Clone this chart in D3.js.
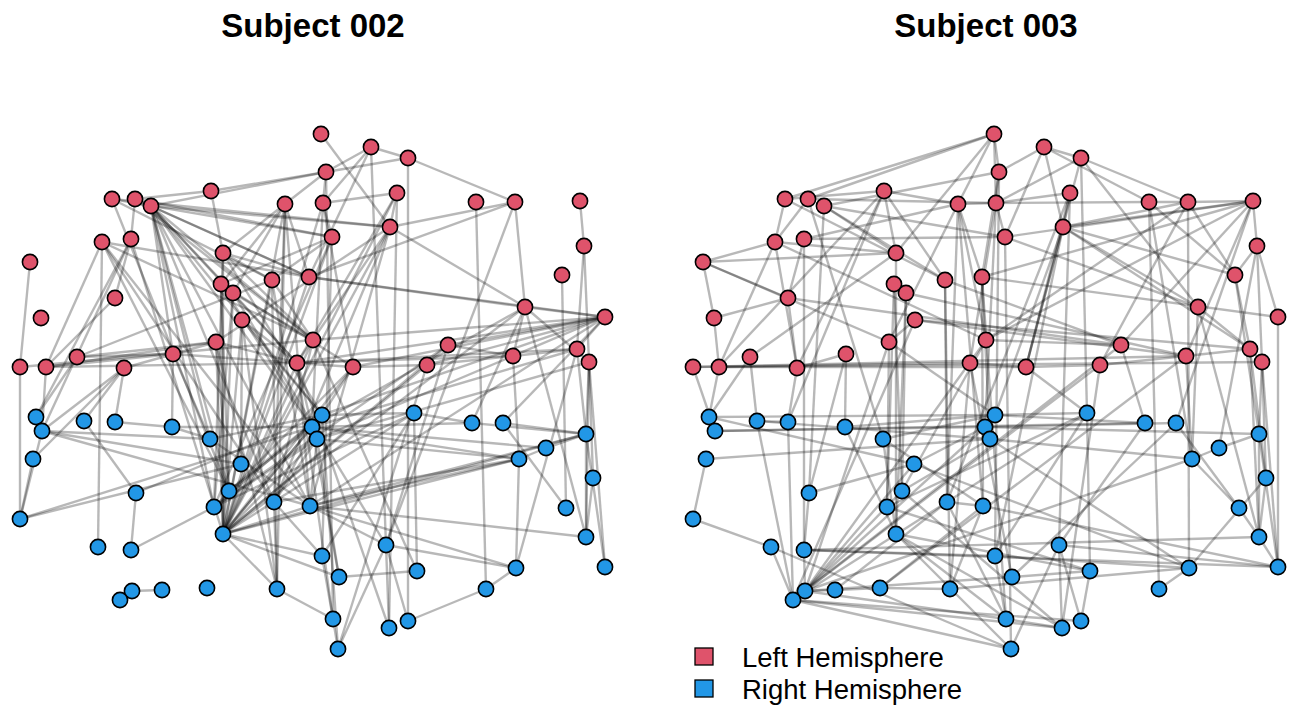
<!DOCTYPE html>
<html>
<head>
<meta charset="utf-8">
<script src="https://cdn.jsdelivr.net/npm/d3@7"></script>
<style>
  html, body { margin: 0; padding: 0; background: #fff; }
  svg { display: block; }
</style>
</head>
<body>
<svg id="chart" width="1291" height="706"></svg>
<script>
// Panel titles (one per subject)
const subjects = ["Subject 002", "Subject 003"];

// Hemisphere groups and legend labels
const hemispheres = ["Left Hemisphere", "Right Hemisphere"];

// Shared electrode layout (2-D projected coordinates); L* = left, R* = right hemisphere
const leftLayout = [
  [321,134],[371,147],[408,158],[326,172],[211,191],[112,199],[135,199],[151,206],[285,204],[323,203],
  [397,193],[476,202],[515,202],[580,201],[102,242],[131,239],[223,253],[390,227],[332,237],[584,246],
  [30,262],[221,284],[233,293],[272,280],[309,277],[562,275],[115,298],[41,318],[242,320],[525,307],
  [605,317],[216,342],[313,340],[448,345],[173,354],[77,357],[297,363],[20,367],[46,367],[124,368],
  [353,367],[427,365],[513,356],[577,349],[589,362]
];
const rightLayout = [
  [36,417],[42,431],[84,421],[115,422],[172,427],[210,439],[33,459],[241,464],[136,493],[229,491],
  [214,507],[274,502],[310,506],[20,519],[223,534],[98,547],[131,550],[277,589],[132,591],[120,600],
  [162,590],[207,588],[322,415],[312,427],[317,439],[414,413],[472,423],[503,423],[586,434],[546,448],
  [519,459],[593,478],[566,508],[386,545],[586,537],[322,556],[605,567],[339,577],[417,571],[516,568],
  [486,589],[333,619],[408,621],[389,628],[338,649]
];

// Connections for Subject 002
const edges002 = [
  ["L1","L18"],["L2","L3"],["L2","L4"],["L2","L10"],["L2","R34"],["L2","L25"],
  ["L3","L4"],["L3","L13"],["L3","R43"],["L4","L5"],["L4","L9"],["L4","L10"],["L4","L8"],
  ["L5","L7"],["L5","L17"],["L6","L18"],["L6","L24"],["L6","L19"],["L6","R10"],
  ["L7","L16"],["L7","L19"],["L7","L25"],["L7","L33"],
  ["L8","L18"],["L8","L25"],["L8","L35"],["L8","L33"],["L8","R6"],["L8","R10"],["L8","R12"],["L8","L37"],["L8","R24"],
  ["L8","R11"],["L8","R13"],["L8","R23"],["L8","L23"],
  ["L9","L17"],["L9","R18"],["L9","L25"],["L9","R13"],["L9","L22"],["L9","R12"],["L9","R15"],["L9","L23"],
  ["L10","L11"],["L10","L19"],["L10","R24"],["L10","L41"],["L10","R15"],["L4","R42"],
  ["L11","L18"],["L11","L37"],["L11","R44"],["L11","R15"],
  ["L12","R41"],["L13","L18"],["L13","L25"],["L13","R34"],["L13","L30"],
  ["L14","L20"],["L20","L45"],["L45","R37"],["L45","R32"],["L20","L44"],["L26","R33"],
  ["L18","L30"],["L18","L37"],["L18","R12"],["L18","R15"],["L18","L32"],["L18","R13"],
  ["L19","L24"],["L19","R36"],["L19","L22"],["L19","R11"],["L19","R15"],
  ["L17","L25"],["L17","L33"],["L17","R15"],["L17","R11"],["L17","L24"],["L17","R23"],
  ["L15","L25"],["L15","R16"],["L15","L39"],["L15","R12"],["L15","R13"],["L15","L33"],["L15","R10"],
  ["L16","L27"],["L16","R2"],["L16","R15"],["L27","L39"],["L21","L38"],
  ["L36","L35"],["L36","L32"],["L36","R1"],["L36","L24"],
  ["L39","L35"],["L39","L32"],["L39","R2"],["L39","L37"],["L38","R14"],["L38","L33"],
  ["L40","R4"],["L40","L32"],["L40","R2"],["L35","R6"],["L35","R5"],["L35","L37"],
  ["L22","R15"],["L22","R10"],["L22","L41"],["L22","R24"],
  ["L23","R11"],["L23","R15"],["L23","L33"],["L23","R34"],["L23","L37"],
  ["L24","R18"],["L24","R13"],["L24","L33"],["L24","R15"],["L25","L30"],["L25","L31"],["L25","R15"],
  ["L29","R18"],["L29","R8"],["L29","L37"],["L29","R23"],["L29","R15"],
  ["L32","R15"],["L32","R18"],["L32","L37"],["L32","R10"],
  ["L33","L31"],["L33","R12"],["L33","R15"],["L33","R39"],
  ["L37","L31"],["L37","L44"],["L37","L43"],["L37","R15"],["L37","R42"],["L37","R44"],["L37","L41"],["L37","R24"],
  ["L41","R23"],["L41","L31"],["L41","R11"],["L41","L42"],["L41","R15"],
  ["L42","L43"],["L42","L31"],["L42","R15"],["L42","R45"],
  ["L34","L43"],["L34","L31"],["L34","R11"],["L34","R34"],["L34","R15"],
  ["L43","L30"],["L43","L44"],["L43","R31"],
  ["L30","L31"],["L30","L45"],["L30","R27"],["L30","R24"],["L30","R35"],["L30","R15"],
  ["L31","L44"],["L31","R28"],["L31","R23"],["L31","R13"],["L31","R25"],
  ["L44","R24"],["L44","R29"],["L44","R40"],["L45","R29"],["L45","R35"],["L45","R25"],
  ["R1","L16"],["R2","R14"],["R14","R7"],["R14","R8"],["R14","R24"],
  ["R2","R6"],["R2","R8"],["R2","R13"],["R7","L40"],
  ["R3","R9"],["R3","L40"],["R4","R5"],["R5","R6"],["R6","R23"],["R6","R13"],["R5","R24"],
  ["R9","R17"],["R17","R11"],["R9","R23"],["R18","R15"],["R18","R42"],["R18","R12"],
  ["R15","R23"],["R15","R24"],["R15","R26"],["R15","R25"],["R15","R13"],["R15","R36"],["R15","R31"],["R15","R29"],
  ["R19","R21"],["R10","R23"],["R10","R24"],["R11","R25"],["R11","R26"],["R11","R23"],
  ["R12","R25"],["R12","R23"],["R12","R36"],
  ["R13","R25"],["R13","R40"],["R13","R35"],["R13","R34"],["R13","R29"],
  ["R23","R24"],["R23","R26"],["R24","R31"],["R24","R27"],["R24","R30"],["R25","R31"],["R23","R45"],["R25","R38"],
  ["R26","R27"],["R26","R39"],["R26","R36"],["R27","R29"],["R28","R29"],["R28","R33"],
  ["R31","R30"],["R30","R29"],["R31","R40"],["R31","R12"],["R31","R13"],
  ["R29","R35"],["R32","R35"],["R29","R37"],["R40","R41"],["R40","R34"],["R39","R38"],
  ["R42","R45"],["R36","R42"],["R43","R41"],["R44","R34"],["R43","R34"],["R45","R34"],
  ["R38","R15"],["R38","R24"]
];

// Connections for Subject 003
const edges003 = [
  ["L1","L6"],["L1","L7"],["L1","L9"],["L1","L17"],["L1","L4"],["L1","L10"],
  ["L8","L4"],["L8","L19"],["L8","R9"],["L8","L17"],["L8","L24"],
  ["L2","L3"],["L2","L4"],["L2","L12"],["L2","L19"],["L2","L18"],
  ["L3","L13"],["L3","R26"],["L3","L30"],["L3","L41"],["L3","L10"],
  ["L4","L10"],["L4","L25"],["L4","R36"],
  ["L5","L17"],["L5","L40"],["L5","R4"],["L5","L24"],["L5","L6"],["L5","L9"],
  ["L6","L15"],["L6","L24"],["L7","L15"],["L7","L10"],["L7","R6"],
  ["L9","L25"],["L9","R12"],["L9","L16"],["L9","L32"],["L9","L10"],["L9","L33"],["L9","R13"],
  ["L10","L11"],["L10","L12"],["L10","L19"],["L10","L37"],["L10","R24"],
  ["L11","L41"],["L11","L18"],["L11","R34"],["L11","R12"],
  ["L12","L13"],["L12","R41"],["L12","L26"],["L12","R31"],
  ["L13","L14"],["L13","R40"],["L13","L26"],["L13","L18"],["L13","L42"],["L13","L33"],
  ["L14","L20"],["L14","L18"],["L14","L25"],["L14","L33"],["L14","L34"],["L14","L19"],["L14","L43"],["L14","R28"],
  ["L20","L45"],["L20","L26"],["L20","L31"],["L20","R30"],["L31","R37"],
  ["L26","L44"],["L26","L18"],["L26","R29"],["L30","L44"],["L30","L18"],["L30","R31"],["L30","R35"],
  ["L41","L42"],["L42","L43"],["L43","L44"],["L44","L45"],["L39","L41"],
  ["L18","L44"],["L18","L41"],["L18","R36"],["L18","R23"],
  ["L15","L21"],["L15","L40"],["L15","L39"],["L15","L33"],["L15","L17"],
  ["L21","L28"],["L21","L27"],["L21","L17"],["L21","L32"],["L16","L27"],["L16","L19"],["L16","R17"],
  ["L27","L28"],["L27","L40"],["L27","L34"],["L28","L39"],
  ["L39","L5"],["L39","L45"],["L39","R1"],["L38","L43"],["L38","R2"],["L38","L37"],
  ["L36","R1"],["L36","L17"],["L36","R3"],["L40","R4"],["L40","L35"],["L35","R5"],["L35","R9"],
  ["L32","R11"],["L32","L29"],["L32","R19"],["L32","R23"],["L22","R11"],["L22","L23"],["L22","R10"],
  ["L23","R15"],["L23","R10"],["L23","L43"],["L29","L44"],["L29","R20"],["L29","L43"],
  ["L17","R15"],["L19","R45"],["L19","L30"],["L25","R25"],["L33","R10"],["L41","R26"],
  ["L24","R12"],["L24","L34"],["L24","R18"],["L25","R13"],["L25","L31"],["L25","R42"],
  ["L33","R19"],["L33","L34"],["L37","R18"],["L37","L41"],["L37","R38"],
  ["L34","R20"],["L34","R27"],["L42","R44"],["L42","R19"],["L43","R22"],["L43","R31"],
  ["L44","R32"],["L44","R35"],["L45","R37"],["L45","R29"],["L45","R32"],
  ["R1","R23"],["R2","R24"],["R1","R2"],["R1","R8"],
  ["R3","R4"],["R3","R25"],["R3","R20"],["R4","R20"],["R5","R15"],["R5","R23"],
  ["R7","R14"],["R7","R25"],["R14","R16"],["R16","R20"],["R16","R45"],
  ["R9","R17"],["R9","R8"],["R17","R19"],["R17","R36"],["R17","R37"],["R17","R35"],
  ["R19","R21"],["R21","R22"],["R22","R18"],["R19","R42"],["R20","R45"],["R20","R44"],
  ["R19","R38"],["R20","R43"],["R19","R8"],["R19","R10"],["R19","R24"],["R19","R31"],
  ["R20","R26"],["R21","R12"],["R22","R13"],["R18","R40"],["R18","R13"],
  ["R6","R15"],["R6","R23"],["R6","R13"],["R8","R24"],["R8","R40"],["R10","R25"],["R10","R44"],
  ["R11","R26"],["R11","R39"],
  ["R15","R45"],["R15","R44"],["R15","R42"],["R15","R39"],["R12","R13"],["R12","R42"],
  ["R23","R24"],["R23","R27"],["R24","R28"],["R24","R29"],["R25","R31"],["R25","R40"],["R23","R26"],
  ["R26","R39"],["R26","R36"],["R27","R34"],["R2","R27"],["R28","R33"],["R28","R38"],
  ["R31","R30"],["R30","R29"],["R31","R33"],["R33","R35"],["R32","R35"],["R35","R37"],
  ["R29","R37"],["R29","R35"],["R40","R41"],["R40","R32"],["R38","R39"],["R37","R34"],
  ["R34","R44"],["R34","R45"],["R34","R43"],["R43","R39"],["R44","R42"],["R42","R36"],
  ["R13","R37"],["R36","R40"]
];

const networks = [edges002, edges003];

// Build node table from the layout arrays
const nodes = [
  ...leftLayout.map((p, i) => ({ id: "L" + (i + 1), hemi: hemispheres[0], lx: p[0], ly: p[1] })),
  ...rightLayout.map((p, i) => ({ id: "R" + (i + 1), hemi: hemispheres[1], lx: p[0], ly: p[1] }))
];
const byId = new Map(nodes.map(d => [d.id, d]));

const svg = d3.select("#chart");
const color = d3.scaleOrdinal().domain(hemispheres).range(["#DF536B", "#2297E6"]);

const panelLeft = [0, 673];
const titleCenter = [313, 986];

subjects.forEach((title, k) => {
  const x = d3.scaleLinear().domain([0, 625]).range([panelLeft[k], panelLeft[k] + 625]);
  const y = d3.scaleLinear().domain([0, 706]).range([0, 706]);
  const g = svg.append("g");

  g.append("text")
    .attr("x", titleCenter[k]).attr("y", 37)
    .attr("text-anchor", "middle")
    .style("font-family", "'Liberation Sans', Arial, sans-serif")
    .style("font-weight", "bold")
    .style("font-size", "33px")
    .text(title);

  g.append("g").selectAll("line")
    .data(networks[k])
    .join("line")
    .attr("x1", d => x(byId.get(d[0]).lx))
    .attr("y1", d => y(byId.get(d[0]).ly))
    .attr("x2", d => x(byId.get(d[1]).lx))
    .attr("y2", d => y(byId.get(d[1]).ly))
    .attr("stroke", "#000")
    .attr("stroke-opacity", 0.28)
    .attr("stroke-width", 2.4);

  g.append("g").selectAll("circle")
    .data(nodes)
    .join("circle")
    .attr("cx", d => x(d.lx))
    .attr("cy", d => y(d.ly))
    .attr("r", 7.6)
    .attr("fill", d => color(d.hemi))
    .attr("stroke", "#000")
    .attr("stroke-width", 1.6);
});

// Legend
const legend = svg.append("g").attr("transform", "translate(695,648)");
const item = legend.selectAll("g")
  .data(hemispheres)
  .join("g")
  .attr("transform", (d, i) => `translate(0,${i * 32})`);
item.append("rect")
  .attr("width", 18).attr("height", 17)
  .attr("fill", d => color(d))
  .attr("stroke", "#000").attr("stroke-width", 1.3);
item.append("text")
  .attr("x", 47).attr("y", 19)
  .style("font-family", "'Liberation Sans', Arial, sans-serif")
  .style("font-size", "27.5px")
  .text(d => d);
</script>
</body>
</html>
